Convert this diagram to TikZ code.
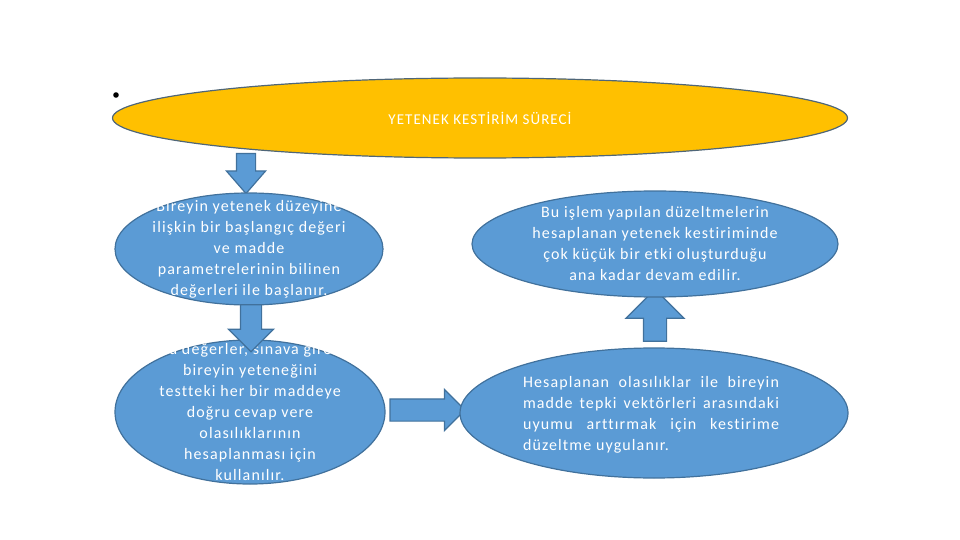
\documentclass[tikz,border=0pt]{standalone}
\usepackage{fontspec}
\setmainfont{Carlito}[LetterSpace=7, Ligatures=NoCommon]
\usepackage{xcolor}
\definecolor{ybg}{HTML}{FFC000}
\definecolor{bbg}{HTML}{5B9BD5}
\definecolor{bline}{HTML}{41719C}
\definecolor{yline}{HTML}{4F6678}
\usetikzlibrary{shapes.geometric, shapes.arrows}
\tikzstyle{blob}   = [ellipse, draw=bline, fill=bbg, line width=1.2pt, inner sep=0pt]
\tikzstyle{title}  = [blob, draw=yline, fill=ybg]
\tikzstyle{btext}  = [text=white, align=center, font=\fontsize{16}{21}\selectfont]
\tikzstyle{barrow} = [single arrow, draw=bline, fill=bbg, line width=1.2pt,
                       single arrow head indent=0pt]

\begin{document}
\begin{tikzpicture}[x=1pt, y=-1pt]
  \useasboundingbox (0,0) rectangle (960,540);
  \fill (116,95) circle (2.8pt);

  \node[barrow, shape border rotate=270, minimum height=40pt, inner sep=9pt,
        single arrow head extend=10pt, single arrow tip angle=82] (a1) at (246,168) {};
  \node[title, minimum width=735pt, minimum height=80pt] (kes) at (480,118) {};
  \node[text=white, font=\fontsize{15}{16}\selectfont] (kes-t) at (kes) {YETENEK KESTİRİM SÜRECİ};

  \node[barrow, minimum height=75pt, inner sep=10.5pt,
        single arrow head extend=9.5pt, single arrow tip angle=90] (a3) at (422,410) {};
  \node[barrow, shape border rotate=90, minimum height=52pt, inner sep=11pt,
        single arrow head extend=17.5pt, single arrow tip angle=90] (a4) at (655,321) {};

  \node[blob, minimum width=268pt, minimum height=112pt] (bas) at (249,249) {};
  \node[btext] (bas-t) at (bas) {Bireyin yetenek düzeyine\\ ilişkin bir başlangıç değeri\\
    ve madde\\ parametrelerinin bilinen\\ değerleri ile başlanır.};

  \node[blob, minimum width=270pt, minimum height=144pt] (ola) at (250,412) {};
  \node[btext] (ola-t) at (ola) {Bu değerler, sınava giren\\ bireyin yeteneğini\\
    testteki her bir maddeye\\ doğru cevap vere\\ olasılıklarının\\ hesaplanması için\\ kullanılır.};

  \node[blob, minimum width=388pt, minimum height=130pt] (duz) at (654,413) {};
  \node[btext, align=justify, text width=256pt] (duz-t) at (651,415) {Hesaplanan olasılıklar ile bireyin\linebreak
    madde tepki vektörleri arasındaki\linebreak uyumu arttırmak için kestirime\linebreak
    düzeltme uygulanır.};

  \node[blob, minimum width=366pt, minimum height=106pt] (dev) at (655,244) {};
  \node[btext] (dev-t) at (dev) {Bu işlem yapılan düzeltmelerin\\ hesaplanan yetenek kestiriminde\\
    çok küçük bir etki oluşturduğu\\ ana kadar devam edilir.};

  \node[barrow, shape border rotate=270, minimum height=47pt, inner sep=10pt,
        single arrow head extend=12pt, single arrow tip angle=90] (a2) at (251,323) {};
\end{tikzpicture}
\end{document}
